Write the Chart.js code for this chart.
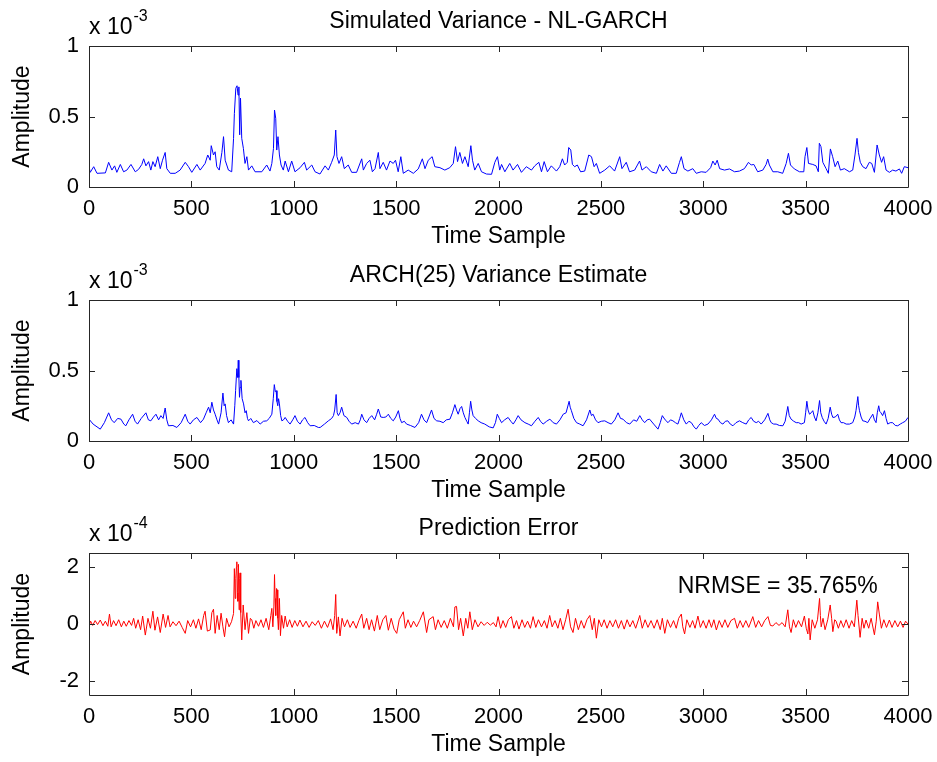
<!DOCTYPE html>
<html>
<head>
<meta charset="utf-8">
<script src="https://cdn.jsdelivr.net/npm/chart.js@4/dist/chart.umd.min.js"></script>
<style>
  body { margin: 0; background: #fff; }
  canvas { display: block; }
</style>
</head>
<body>
<canvas id="simPanel" width="937" height="254"></canvas>
<canvas id="estPanel" width="937" height="254"></canvas>
<canvas id="errPanel" width="937" height="254"></canvas>
<script>
// [sample, value] pairs
// simulated & estimated variance are in units of 1e-3, prediction error in 1e-4
var simulated = [[0,.144],[6,.104],[23,.144],[39,.097],[80,.1],[96,.175],[112,.12],[125,.15],[136,.104],[153,.16],[169,.108],[185,.12],[205,.16],[226,.108],[242,.125],[258,.16],[267,.2],[278,.15],[291,.18],[302,.12],[312,.18],[323,.144],[336,.215],[348,.13],[359,.19],[372,.245],[380,.13],[397,.097],[421,.097],[445,.12],[470,.175],[486,.144],[502,.104],[527,.16],[543,.12],[567,.167],[580,.227],[592,.19],[597,.293],[608,.227],[616,.25],[624,.144],[636,.12],[649,.245],[657,.357],[665,.19],[681,.12],[697,.108],[706,.345],[710,.52],[717,.7],[723,.718],[728,.652],[732,.71],[736,.37],[740,.63],[746,.345],[754,.274],[762,.167],[771,.215],[779,.12],[795,.15],[811,.108],[844,.108],[868,.156],[884,.113],[893,.167],[901,.274],[906,.546],[912,.487],[917,.262],[923,.357],[930,.227],[938,.156],[949,.12],[958,.184],[974,.108],[990,.184],[1006,.108],[1031,.137],[1052,.175],[1063,.12],[1088,.156],[1104,.108],[1128,.092],[1153,.15],[1169,.12],[1185,.175],[1198,.227],[1205,.404],[1211,.215],[1221,.167],[1234,.215],[1247,.13],[1266,.156],[1283,.104],[1307,.104],[1332,.2],[1340,.12],[1356,.167],[1372,.19],[1384,.108],[1397,.13],[1413,.245],[1421,.13],[1437,.175],[1453,.12],[1470,.184],[1486,.167],[1497,.19],[1510,.108],[1523,.215],[1535,.097],[1559,.12],[1584,.097],[1608,.128],[1628,.2],[1641,.13],[1657,.19],[1676,.215],[1689,.144],[1714,.137],[1738,.12],[1762,.137],[1779,.167],[1790,.286],[1800,.18],[1811,.245],[1824,.167],[1836,.215],[1852,.144],[1865,.293],[1873,.19],[1884,.12],[1901,.167],[1917,.108],[1941,.092],[1966,.09],[1982,.175],[1995,.215],[2006,.12],[2015,.16],[2031,.108],[2055,.167],[2071,.12],[2093,.16],[2112,.104],[2136,.144],[2161,.12],[2177,.15],[2197,.175],[2210,.108],[2223,.18],[2239,.108],[2258,.15],[2283,.113],[2299,.144],[2312,.2],[2323,.156],[2336,.175],[2343,.28],[2353,.262],[2361,.16],[2372,.144],[2385,.156],[2401,.108],[2421,.113],[2441,.227],[2454,.215],[2467,.144],[2478,.167],[2494,.097],[2519,.12],[2543,.15],[2567,.113],[2592,.215],[2603,.13],[2624,.175],[2640,.108],[2665,.12],[2689,.184],[2701,.12],[2722,.144],[2746,.108],[2771,.097],[2787,.16],[2803,.113],[2819,.15],[2844,.097],[2868,.097],[2884,.175],[2893,.215],[2906,.13],[2925,.113],[2949,.13],[2966,.097],[2990,.108],[3014,.104],[3036,.137],[3047,.184],[3058,.156],[3068,.19],[3080,.13],[3104,.12],[3128,.128],[3153,.108],[3177,.113],[3201,.13],[3221,.175],[3234,.156],[3247,.16],[3266,.108],[3291,.12],[3307,.16],[3315,.198],[3323,.156],[3340,.108],[3364,.108],[3388,.097],[3405,.167],[3416,.239],[3426,.156],[3445,.128],[3470,.108],[3491,.108],[3497,.215],[3506,.28],[3514,.167],[3535,.16],[3551,.15],[3562,.108],[3567,.31],[3575,.286],[3584,.175],[3600,.13],[3611,.097],[3621,.27],[3632,.215],[3644,.144],[3657,.184],[3670,.12],[3689,.13],[3714,.108],[3730,.12],[3741,.227],[3751,.345],[3758,.245],[3767,.175],[3779,.144],[3795,.13],[3811,.175],[3823,.167],[3836,.104],[3849,.298],[3860,.227],[3871,.175],[3881,.215],[3893,.12],[3909,.104],[3925,.12],[3941,.113],[3958,.128],[3969,.097],[3982,.144],[4000,.137]];

var estimate = [[0,.155],[20,.12],[55,.084],[75,.13],[96,.2],[110,.15],[123,.13],[140,.16],[156,.155],[170,.12],[180,.108],[195,.15],[213,.19],[225,.14],[237,.12],[255,.16],[278,.2],[290,.15],[302,.143],[315,.17],[327,.19],[340,.15],[351,.18],[362,.16],[372,.234],[380,.15],[388,.108],[410,.11],[429,.096],[450,.13],[470,.19],[482,.14],[494,.12],[510,.15],[527,.167],[545,.13],[559,.155],[572,.2],[584,.24],[592,.2],[600,.275],[608,.22],[616,.19],[625,.15],[633,.12],[645,.2],[654,.34],[660,.25],[665,.263],[672,.18],[681,.13],[694,.15],[706,.12],[712,.25],[716,.357],[722,.513],[726,.45],[729,.573],[732,.45],[735,.31],[738,.38],[742,.43],[748,.3],[755,.263],[762,.2],[768,.215],[774,.16],[779,.143],[790,.16],[803,.13],[820,.145],[836,.12],[852,.14],[868,.143],[880,.16],[893,.19],[900,.3],[905,.4],[910,.35],[914,.357],[918,.28],[922,.25],[926,.3],[930,.263],[936,.18],[942,.143],[950,.15],[958,.167],[970,.14],[982,.12],[995,.15],[1006,.18],[1018,.14],[1031,.12],[1043,.15],[1055,.167],[1068,.13],[1080,.108],[1100,.11],[1120,.096],[1129,.096],[1150,.12],[1169,.143],[1185,.16],[1194,.18],[1200,.22],[1207,.33],[1212,.2],[1218,.18],[1226,.2],[1234,.24],[1245,.18],[1259,.167],[1270,.14],[1283,.12],[1300,.13],[1316,.12],[1325,.15],[1332,.19],[1343,.15],[1356,.13],[1368,.16],[1381,.18],[1395,.15],[1405,.19],[1413,.227],[1425,.17],[1437,.167],[1450,.17],[1462,.19],[1474,.16],[1486,.143],[1498,.17],[1511,.215],[1519,.16],[1527,.13],[1540,.14],[1551,.12],[1570,.11],[1592,.096],[1610,.13],[1624,.19],[1636,.15],[1649,.13],[1660,.17],[1673,.22],[1685,.16],[1698,.143],[1714,.14],[1730,.13],[1745,.15],[1763,.155],[1775,.2],[1787,.258],[1795,.22],[1803,.19],[1812,.23],[1820,.245],[1828,.2],[1836,.167],[1845,.14],[1852,.12],[1858,.2],[1864,.282],[1870,.22],[1876,.18],[1888,.16],[1901,.143],[1915,.13],[1933,.12],[1955,.1],[1974,.093],[1985,.13],[1994,.19],[2004,.16],[2015,.13],[2030,.15],[2047,.167],[2060,.14],[2072,.12],[2085,.15],[2096,.18],[2110,.15],[2129,.13],[2145,.12],[2161,.108],[2178,.14],[2194,.167],[2205,.14],[2218,.12],[2235,.14],[2251,.155],[2267,.13],[2283,.12],[2300,.15],[2316,.19],[2330,.2],[2345,.282],[2350,.24],[2356,.215],[2368,.16],[2381,.13],[2397,.12],[2413,.108],[2430,.15],[2446,.22],[2454,.18],[2462,.19],[2474,.15],[2486,.13],[2502,.14],[2519,.143],[2535,.13],[2551,.12],[2568,.15],[2584,.2],[2596,.16],[2608,.155],[2625,.13],[2641,.12],[2660,.15],[2675,.14],[2690,.18],[2702,.15],[2714,.13],[2726,.15],[2738,.155],[2758,.12],[2779,.084],[2790,.13],[2800,.18],[2814,.15],[2828,.13],[2840,.15],[2852,.143],[2864,.13],[2876,.12],[2885,.16],[2893,.2],[2905,.15],[2917,.12],[2930,.14],[2942,.13],[2955,.1],[2966,.084],[2978,.11],[2990,.13],[3006,.11],[3023,.12],[3040,.15],[3055,.19],[3064,.16],[3072,.155],[3084,.13],[3096,.12],[3108,.14],[3120,.143],[3132,.12],[3145,.108],[3160,.13],[3177,.143],[3193,.13],[3210,.12],[3222,.15],[3234,.167],[3246,.14],[3259,.13],[3270,.14],[3283,.12],[3300,.15],[3316,.196],[3325,.15],[3332,.13],[3344,.12],[3356,.12],[3372,.11],[3389,.108],[3400,.14],[3413,.245],[3420,.18],[3429,.155],[3442,.14],[3454,.13],[3466,.13],[3478,.12],[3494,.13],[3500,.2],[3506,.282],[3512,.22],[3519,.19],[3527,.2],[3535,.215],[3543,.17],[3551,.143],[3560,.2],[3568,.287],[3574,.2],[3581,.167],[3590,.14],[3600,.12],[3610,.16],[3620,.24],[3627,.19],[3633,.167],[3645,.17],[3657,.19],[3665,.15],[3673,.13],[3685,.13],[3698,.12],[3714,.12],[3730,.13],[3740,.17],[3746,.215],[3755,.315],[3759,.25],[3763,.215],[3771,.17],[3779,.143],[3790,.14],[3803,.13],[3815,.16],[3828,.19],[3836,.15],[3844,.13],[3850,.2],[3857,.25],[3862,.21],[3868,.2],[3876,.18],[3885,.215],[3893,.16],[3901,.12],[3913,.13],[3925,.13],[3938,.11],[3950,.108],[3962,.12],[3974,.13],[3987,.14],[4000,.167]];

var predError = [[0,-.08],[8,.1],[18,-.05],[30,.12],[42,-.02],[55,.14],[68,-.06],[80,.1],[92,-.08],[100,.35],[108,-.1],[120,.12],[132,-.06],[145,.15],[158,-.1],[170,.1],[182,-.08],[195,.12],[208,-.05],[218,.2],[228,-.15],[240,.15],[252,-.2],[262,.28],[275,-.39],[288,.2],[300,-.15],[312,.45],[322,-.22],[335,.25],[348,-.3],[362,.35],[374,-.12],[386,.3],[396,-.1],[410,.08],[425,-.06],[440,.1],[455,-.12],[470,-.33],[482,.12],[496,-.1],[510,.15],[522,-.15],[535,.18],[548,-.2],[560,.3],[567,.45],[578,-.25],[592,-.21],[600,.4],[608,.52],[616,-.33],[626,.3],[636,-.2],[645,.38],[654,-.1],[662,-.45],[672,.2],[684,-.1],[696,.08],[706,.37],[710,1.95],[714,.9],[717,1.6],[720,2],[722,2.19],[725,1.1],[727,.8],[730,2.1],[733,.5],[736,1.6],[738,1.8],[741,.4],[746,-.56],[753,.67],[762,-.2],[771,.4],[779,-.33],[788,.2],[795,.15],[805,-.15],[815,.12],[828,-.08],[840,.15],[852,-.12],[865,.2],[878,-.2],[888,.3],[893,.55],[898,-.1],[903,.6],[906,1.74],[909,.9],[912,.3],[916,1.25],[919,1.2],[922,.2],[925,-.2],[930,.9],[935,-.41],[941,.3],[950,-.15],[958,.28],[968,-.1],[980,.15],[992,-.12],[1005,.12],[1018,-.08],[1030,.14],[1045,-.1],[1060,.1],[1075,-.12],[1090,.08],[1105,-.05],[1120,.12],[1135,-.15],[1150,.1],[1165,-.12],[1180,.18],[1192,-.2],[1200,.3],[1205,1.04],[1210,-.33],[1218,.25],[1226,-.42],[1236,.2],[1248,-.1],[1262,.15],[1275,-.12],[1290,.1],[1305,-.15],[1318,.12],[1332,.35],[1342,-.15],[1356,.2],[1368,-.2],[1380,.15],[1394,-.25],[1408,.3],[1420,-.2],[1435,.15],[1450,.3],[1462,-.22],[1476,.2],[1490,-.18],[1503,-.33],[1515,.15],[1535,.43],[1545,-.15],[1558,.15],[1572,-.12],[1585,.1],[1600,-.1],[1615,.12],[1633,.43],[1649,-.3],[1660,.15],[1681,.26],[1692,-.2],[1705,.15],[1720,-.12],[1735,.12],[1750,-.15],[1765,.2],[1780,-.1],[1787,.6],[1795,.62],[1805,-.2],[1815,.2],[1828,-.42],[1840,.2],[1850,-.15],[1860,.43],[1872,-.2],[1885,.15],[1900,-.1],[1915,.08],[1930,-.05],[1945,.06],[1960,-.04],[1975,.05],[1988,-.1],[1998,.26],[2010,-.15],[2022,.12],[2035,-.12],[2048,.15],[2063,.26],[2075,-.15],[2088,.12],[2100,-.18],[2115,.15],[2128,-.12],[2142,.1],[2156,-.15],[2169,.26],[2182,-.12],[2195,.15],[2210,-.1],[2224,.12],[2237,-.15],[2250,.3],[2262,-.1],[2276,.12],[2290,-.15],[2302,.2],[2315,-.2],[2328,.15],[2340,.52],[2352,-.1],[2364,-.3],[2376,.2],[2390,-.2],[2404,.12],[2418,-.15],[2432,.15],[2446,.3],[2458,-.2],[2468,.2],[2478,-.5],[2490,.15],[2503,-.1],[2516,.15],[2530,-.15],[2544,.12],[2558,-.1],[2572,.15],[2586,-.15],[2600,.12],[2614,-.18],[2628,.15],[2642,-.1],[2656,.12],[2670,-.15],[2690,.3],[2702,-.15],[2716,.15],[2730,-.12],[2745,.12],[2760,-.15],[2775,.15],[2790,-.2],[2800,.2],[2812,-.33],[2825,.15],[2840,-.12],[2855,.12],[2868,-.15],[2880,.2],[2893,.35],[2900,-.1],[2909,-.35],[2920,.15],[2935,-.12],[2948,.12],[2960,-.15],[2974,.28],[2986,-.12],[3000,.12],[3014,-.15],[3028,.15],[3040,-.12],[3052,.15],[3064,-.21],[3078,.12],[3092,-.12],[3106,.15],[3120,-.12],[3135,.12],[3153,.2],[3166,-.15],[3180,.12],[3194,-.12],[3208,.12],[3222,-.12],[3242,.26],[3256,-.12],[3270,.12],[3285,-.1],[3300,.12],[3316,.26],[3328,-.05],[3340,-.07],[3355,.05],[3370,-.05],[3385,.05],[3400,-.1],[3413,.5],[3421,-.1],[3429,-.3],[3440,.15],[3452,-.12],[3465,.12],[3480,-.1],[3494,.28],[3503,-.15],[3511,-.35],[3516,.2],[3522,-.56],[3532,.15],[3545,-.15],[3558,.15],[3568,.9],[3572,.3],[3576,-.1],[3585,.2],[3595,-.2],[3608,.15],[3620,.67],[3627,.2],[3633,-.27],[3642,.15],[3649,.1],[3660,-.15],[3672,.12],[3685,-.12],[3698,.15],[3712,-.15],[3725,.12],[3738,-.1],[3750,.84],[3756,.3],[3766,-.47],[3776,.2],[3785,-.15],[3795,.14],[3808,-.15],[3820,.2],[3836,-.38],[3845,.1],[3852,.78],[3860,.35],[3870,-.15],[3882,.15],[3895,-.12],[3909,.14],[3922,-.12],[3936,.12],[3950,-.1],[3963,.1],[3976,-.12],[3988,.1],[4000,0]];

var xTicks = [0, 500, 1000, 1500, 2000, 2500, 3000, 3500, 4000];
var varTicks = [0, 0.5, 1];
var errTicks = [-2, 0, 2];

var FONT = '"Liberation Sans", Arial, Helvetica, sans-serif';

// MATLAB style box: frame, inward ticks, title, exponent and optional note
var matlabBox = {
  id: 'matlabBox',
  afterDraw: function(chart, args, opts) {
    var ctx = chart.ctx, a = chart.chartArea;
    var xs = chart.scales.x, ys = chart.scales.y;
    ctx.save();
    ctx.strokeStyle = '#262626';
    ctx.lineWidth = 1;
    ctx.beginPath();
    ctx.rect(Math.round(a.left) + 0.5, Math.round(a.top) + 0.5,
      Math.round(a.right - a.left), Math.round(a.bottom - a.top));
    xs.ticks.forEach(function(t) {
      var px = Math.round(xs.getPixelForValue(t.value)) + 0.5;
      ctx.moveTo(px, a.bottom); ctx.lineTo(px, a.bottom - 6);
      ctx.moveTo(px, a.top); ctx.lineTo(px, a.top + 6);
    });
    ys.ticks.forEach(function(t) {
      var py = Math.round(ys.getPixelForValue(t.value)) + 0.5;
      ctx.moveTo(a.left, py); ctx.lineTo(a.left + 6, py);
      ctx.moveTo(a.right, py); ctx.lineTo(a.right - 6, py);
    });
    ctx.stroke();

    ctx.fillStyle = '#000';
    ctx.font = '23px ' + FONT;
    ctx.textAlign = 'center';
    ctx.textBaseline = 'alphabetic';
    ctx.fillText(opts.title, (a.left + a.right) / 2, a.top - 18);

    ctx.textAlign = 'left';
    ctx.fillText('x 10', a.left, a.top - 12);
    var w = ctx.measureText('x 10').width;
    ctx.font = '16px ' + FONT;
    ctx.fillText(opts.exponent, a.left + w + 1, a.top - 25);

    if (opts.note) {
      ctx.font = '23px ' + FONT;
      ctx.fillText(opts.note.text, xs.getPixelForValue(opts.note.x), ys.getPixelForValue(opts.note.y));
    }
    ctx.restore();
  }
};

function makePanel(id, points, color, yMin, yMax, yTicks, box, topPad) {
  return new Chart(document.getElementById(id), {
    type: 'line',
    data: {
      datasets: [{
        data: points.map(function(p) { return {x: p[0], y: p[1]}; }),
        borderColor: color,
        borderWidth: 1,
        pointRadius: 0,
        tension: 0,
        fill: false
      }]
    },
    options: {
      responsive: false,
      animation: false,
      layout: { padding: { top: topPad, right: 29, left: 0, bottom: 0 } },
      plugins: { legend: { display: false }, tooltip: { enabled: false }, matlabBox: box },
      scales: {
        x: {
          type: 'linear', min: 0, max: 4000,
          afterBuildTicks: function(s) { s.ticks = xTicks.map(function(v) { return {value: v}; }); },
          afterFit: function(s) { s.height = 67; s.paddingLeft = 0; s.paddingRight = 0; },
          grid: { display: false, drawTicks: false },
          border: { display: false },
          ticks: { color: '#000', font: { family: FONT, size: 22 }, padding: 9, maxRotation: 0,
            callback: function(v) { return String(v); } },
          title: { display: true, text: 'Time Sample', color: '#000',
            font: { family: FONT, size: 23 }, padding: { top: 0, bottom: 4 } }
        },
        y: {
          min: yMin, max: yMax,
          afterBuildTicks: function(s) { s.ticks = yTicks.map(function(v) { return {value: v}; }); },
          afterFit: function(s) { s.width = 89; s.paddingTop = 0; s.paddingBottom = 0; },
          grid: { display: false, drawTicks: false },
          border: { display: false },
          ticks: { color: '#000', font: { family: FONT, size: 22 }, padding: 10,
            callback: function(v) { return String(v); } },
          title: { display: true, text: 'Amplitude', color: '#000',
            font: { family: FONT, size: 23 }, padding: { top: 9, bottom: 0 } }
        }
      }
    },
    plugins: [matlabBox]
  });
}

makePanel('simPanel', simulated, '#0000ff', 0, 1, varTicks,
  { title: 'Simulated Variance - NL-GARCH', exponent: '-3' }, 46);
makePanel('estPanel', estimate, '#0000ff', 0, 1, varTicks,
  { title: 'ARCH(25) Variance Estimate', exponent: '-3' }, 46);
makePanel('errPanel', predError, '#ff0000', -2.5, 2.5, errTicks,
  { title: 'Prediction Error', exponent: '-4', note: { text: 'NRMSE = 35.765%', x: 2875, y: 1.1 } }, 45);
</script>
</body>
</html>
